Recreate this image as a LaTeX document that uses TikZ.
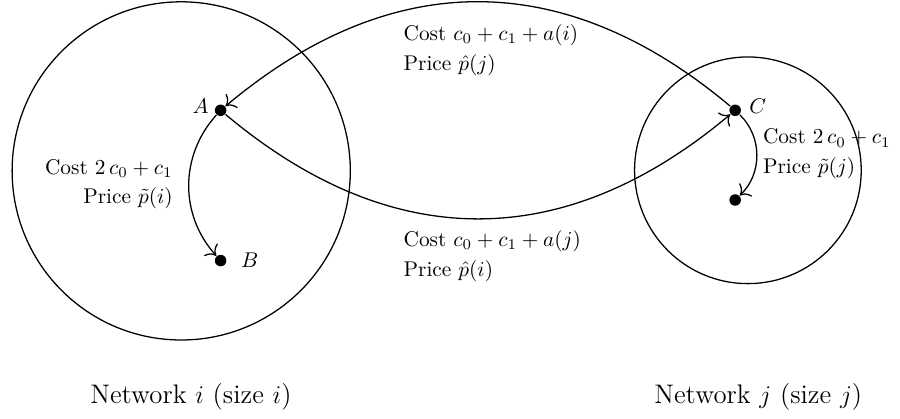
\documentclass[tikz,border=0pt]{standalone}
\usetikzlibrary{positioning,arrows.meta}
\tikzset{
    every picture/.style={line width=0.6pt,>={To[scale=1.4]}},
    dot/.style={circle,fill=black,inner sep=0pt,minimum size=0.19cm},
    link/.style={->,bend right=40,looseness=1.1},
    cost/.style={inner sep=0pt}
}
\begin{document}
\begin{tikzpicture}
        \useasboundingbox (0,0) rectangle (14.85,6.9);
        % networks
        \draw (2.99,4.08) circle (2.79);
        \draw (12.34,4.09) circle (1.87);
        \node[font=\fontsize{12.6}{15}\selectfont] (neti) at (3.15,0.35) {Network $i$ (size $i$)};
        \node[font=\fontsize{12.6}{15}\selectfont] (netj) at (12.51,0.35) {Network $j$ (size $j$)};
        % nodes
        \node[dot,label={[xshift=1pt,yshift=2pt]left:$A$}] (a) at (3.64,5.08) {};
        \node[dot,label={[xshift=3pt]right:$B$}] (b) at (3.64,2.60) {};
        \node[dot,label={[yshift=2pt]right:$C$}] (c) at (12.13,5.08) {};
        \node[dot] (d) at (12.13,3.60) {};
        % links
        \draw[link] (c) to (a);
        \draw[link] (a) to (c);
        \draw[->] (a) to[bend right=42] (b);
        \draw[->] (c) to[bend left=46] (d);
        % labels
        \node[cost,align=left,anchor=west] (top) at (6.65,6.07) {Cost $c_0+c_1+a(i)$\\[2pt]Price $\hat p(j)$};
        \node[cost,align=left,anchor=west] (bot) at (6.65,2.67) {Cost $c_0+c_1+a(j)$\\[2pt]Price $\hat p(i)$};
        \node[cost,align=right,anchor=east] (inti) at (2.86,3.86) {Cost $2\,c_0+c_1$\\[2pt]Price $\tilde p(i)$};
        \node[cost,align=left,anchor=west] (intj) at (12.58,4.36) {Cost $2\,c_0+c_1$\\[2pt]Price $\tilde p(j)$};
    \end{tikzpicture}
\end{document}
